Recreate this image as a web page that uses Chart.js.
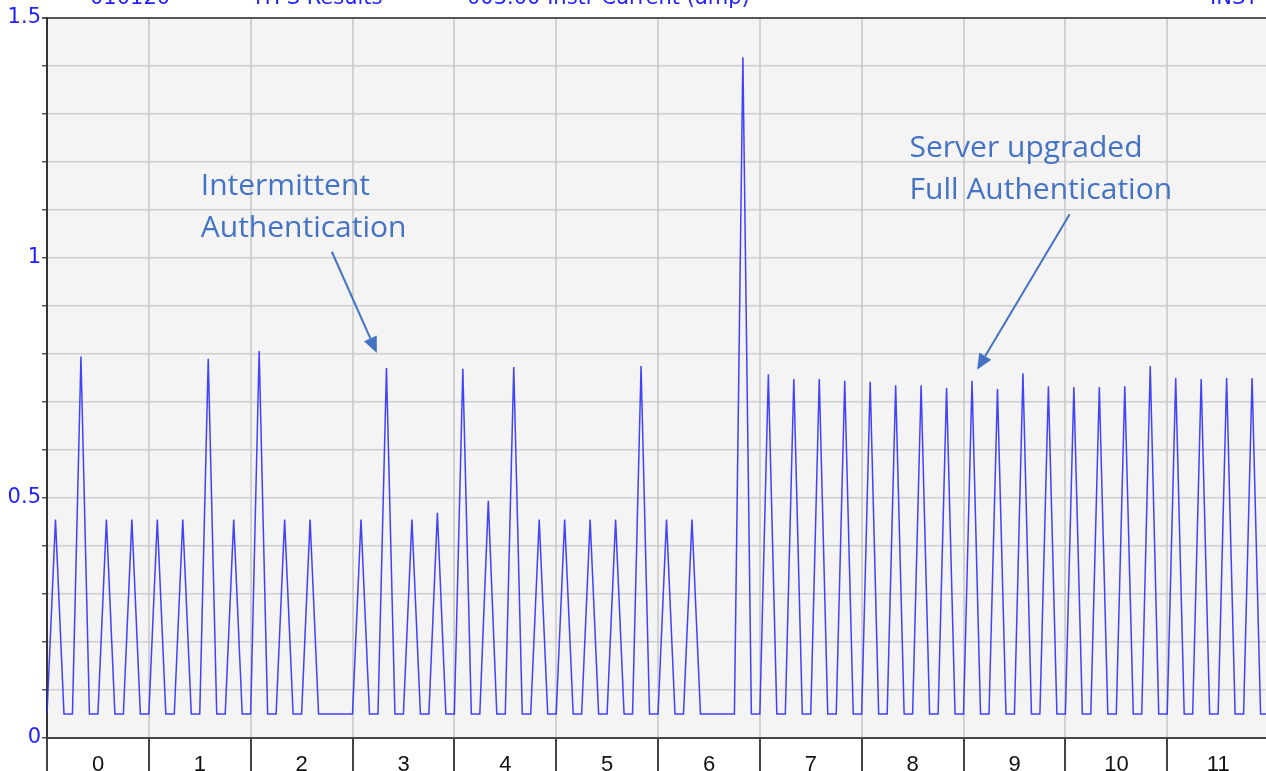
<!DOCTYPE html>
<html>
<head>
<meta charset="utf-8">
<script src="https://cdn.jsdelivr.net/npm/chart.js@4.4.1/dist/chart.umd.min.js"></script>
<style>
  html, body { margin: 0; padding: 0; background: #fff; overflow: hidden; }
  canvas { display: block; }
</style>
</head>
<body>
<canvas id="chartCanvas" width="1266" height="771"></canvas>
<script>
// instrument current (amp), one reading every 5 minutes, one row per hour
const currentHour0  = [0.05, 0.455, 0.05, 0.05, 0.795, 0.05, 0.05, 0.455, 0.05, 0.05, 0.455, 0.05];
const currentHour1  = [0.05, 0.455, 0.05, 0.05, 0.455, 0.05, 0.05, 0.79, 0.05, 0.05, 0.455, 0.05];
const currentHour2  = [0.05, 0.806, 0.05, 0.05, 0.455, 0.05, 0.05, 0.455, 0.05, 0.05, 0.05, 0.05];
const currentHour3  = [0.05, 0.455, 0.05, 0.05, 0.771, 0.05, 0.05, 0.455, 0.05, 0.05, 0.469, 0.05];
const currentHour4  = [0.05, 0.769, 0.05, 0.05, 0.494, 0.05, 0.05, 0.773, 0.05, 0.05, 0.455, 0.05];
const currentHour5  = [0.05, 0.455, 0.05, 0.05, 0.455, 0.05, 0.05, 0.455, 0.05, 0.05, 0.775, 0.05];
const currentHour6  = [0.05, 0.455, 0.05, 0.05, 0.455, 0.05, 0.05, 0.05, 0.05, 0.05, 1.418, 0.05];
const currentHour7  = [0.05, 0.758, 0.05, 0.05, 0.748, 0.05, 0.05, 0.748, 0.05, 0.05, 0.744, 0.05];
const currentHour8  = [0.05, 0.742, 0.05, 0.05, 0.735, 0.05, 0.05, 0.735, 0.05, 0.05, 0.729, 0.05];
const currentHour9  = [0.05, 0.744, 0.05, 0.05, 0.727, 0.05, 0.05, 0.76, 0.05, 0.05, 0.733, 0.05];
const currentHour10 = [0.05, 0.731, 0.05, 0.05, 0.731, 0.05, 0.05, 0.733, 0.05, 0.05, 0.775, 0.05];
const currentHour11 = [0.05, 0.75, 0.05, 0.05, 0.748, 0.05, 0.05, 0.75, 0.05, 0.05, 0.75, 0.05];
const currentHour12 = [0.05];

const SAMPLE_STEP = 1 / 12; // hours between readings
const X_MAX = 11.97;

const headerTexts = ['010120', 'ITPS Results', '003.00 Instr Current (amp)', 'INST'];
const headerX = [90, 255, 467, 1210];

// annotation text: [x, y of first baseline] in data units
const noteLines1 = ['Intermittent', 'Authentication'];
const notePos1 = [1.51, 1.131];
const arrow1 = [2.797, 1.013, 3.239, 0.802];
const noteLines2 = ['Server upgraded', 'Full Authentication'];
const notePos2 = [8.47, 1.21];
const arrow2 = [10.042, 1.091, 9.133, 0.767];

const current = [].concat(currentHour0, currentHour1, currentHour2, currentHour3, currentHour4,
    currentHour5, currentHour6, currentHour7, currentHour8, currentHour9, currentHour10,
    currentHour11, currentHour12);
const points = current.map((v, i) => ({ x: i * SAMPLE_STEP, y: v }));

const NOTE_COLOR = '#4472c4';
const AXIS_BLUE = '#1f1fff';

const plotBackground = {
    id: 'plotBackground',
    beforeDraw(chart) {
        const { ctx, chartArea: a } = chart;
        ctx.save();
        ctx.fillStyle = '#f4f4f4';
        ctx.fillRect(a.left, a.top, a.right - a.left, a.bottom - a.top);
        ctx.restore();
    }
};

function drawArrow(ctx, x1, y1, x2, y2) {
    const ang = Math.atan2(y2 - y1, x2 - x1);
    const len = 16, wid = 7;
    const bx = x2 - len * Math.cos(ang), by = y2 - len * Math.sin(ang);
    ctx.beginPath();
    ctx.moveTo(x1, y1);
    ctx.lineTo(bx, by);
    ctx.stroke();
    ctx.beginPath();
    ctx.moveTo(x2, y2);
    ctx.lineTo(bx + wid * Math.sin(ang), by - wid * Math.cos(ang));
    ctx.lineTo(bx - wid * Math.sin(ang), by + wid * Math.cos(ang));
    ctx.closePath();
    ctx.fill();
}

const notes = {
    id: 'notes',
    afterDraw(chart) {
        const { ctx, scales: { x, y } } = chart;
        ctx.save();
        // header, mostly cut off at the top edge
        ctx.fillStyle = AXIS_BLUE;
        ctx.font = '21px "DejaVu Sans"';
        ctx.textBaseline = 'alphabetic';
        headerTexts.forEach((t, i) => ctx.fillText(t, headerX[i], 4));

        ctx.fillStyle = NOTE_COLOR;
        ctx.strokeStyle = NOTE_COLOR;
        ctx.lineWidth = 2;
        ctx.font = '30px "Open Sans"';
        [[noteLines1, notePos1, arrow1], [noteLines2, notePos2, arrow2]].forEach(([lines, pos, arr]) => {
            const px = x.getPixelForValue(pos[0]);
            const py = y.getPixelForValue(pos[1]);
            lines.forEach((l, i) => ctx.fillText(l, px, py + i * 42));
            drawArrow(ctx, x.getPixelForValue(arr[0]), y.getPixelForValue(arr[1]),
                x.getPixelForValue(arr[2]), y.getPixelForValue(arr[3]));
        });
        ctx.restore();
    }
};

const ctx = document.getElementById('chartCanvas').getContext('2d');
new Chart(ctx, {
    type: 'line',
    data: {
        datasets: [{
            label: 'Instr Current (amp)',
            data: points,
            borderColor: 'rgba(45, 45, 255, 0.9)',
            borderWidth: 1.5,
            pointRadius: 0,
            tension: 0,
            fill: false
        }]
    },
    options: {
        responsive: false,
        animation: false,
        devicePixelRatio: 1,
        layout: { padding: { top: 18, left: 0, right: 0, bottom: 0 } },
        plugins: {
            legend: { display: false },
            tooltip: { enabled: false }
        },
        scales: {
            x: {
                type: 'linear',
                min: 0,
                max: X_MAX,
                afterFit(scale) { scale.height = 33; },
                grid: {
                    color: '#d2d2d2',
                    lineWidth: 2,
                    tickColor: '#444',
                    tickLength: 33
                },
                border: { color: '#444', width: 2 },
                ticks: {
                    stepSize: 1,
                    includeBounds: false,
                    autoSkip: false,
                    maxRotation: 0,
                    labelOffset: 51,
                    padding: -19,
                    color: '#111',
                    font: { family: 'Liberation Sans', size: 22 },
                    callback: v => String(v)
                }
            },
            y: {
                min: 0,
                max: 1.5,
                afterFit(scale) { scale.width = 47; },
                grid: {
                    color: c => (c.tick && Math.abs(c.tick.value - 1.5) < 1e-6) ? '#555' : '#cdcdcd',
                    lineWidth: c => (c.tick && Math.abs(c.tick.value - 1.5) < 1e-6) ? 2 : 1.5,
                    tickColor: '#555',
                    tickLength: 5
                },
                border: { color: '#333', width: 2 },
                ticks: {
                    stepSize: 0.1,
                    autoSkip: false,
                    padding: 1,
                    color: AXIS_BLUE,
                    font: { family: 'DejaVu Sans', size: 21 },
                    callback: v => {
                        const r = Math.round(v * 10) / 10;
                        return Math.abs(r * 2 - Math.round(r * 2)) < 1e-6 ? String(r) : '';
                    }
                }
            }
        }
    },
    plugins: [plotBackground, notes]
});
</script>
</body>
</html>
